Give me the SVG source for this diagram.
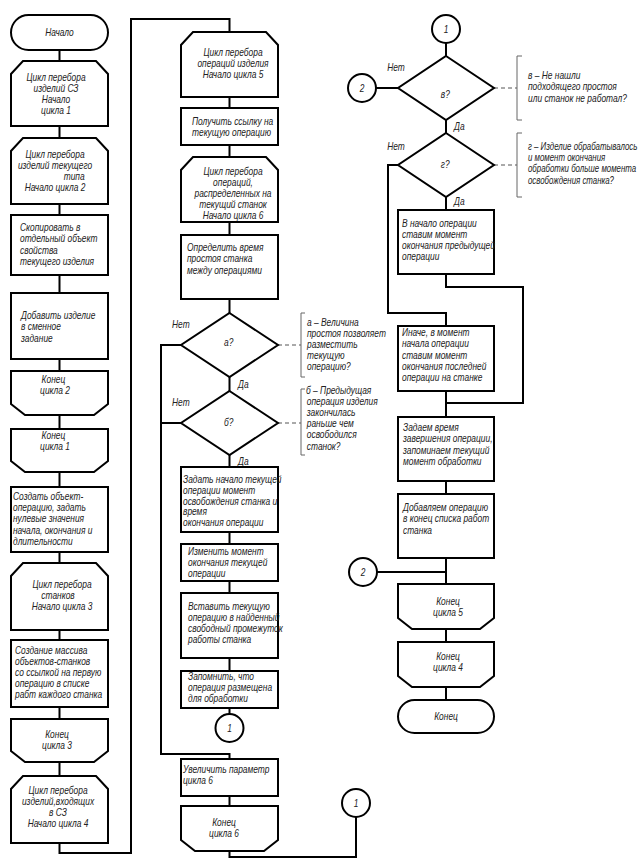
<svg xmlns="http://www.w3.org/2000/svg" width="642" height="861" viewBox="0 0 642 861">
<style>
.s{fill:#fff;stroke:#000;stroke-width:2}
.l{fill:none;stroke:#000;stroke-width:2}
.d{fill:none;stroke:#555;stroke-width:1;stroke-dasharray:4 3}
.b{fill:none;stroke:#666;stroke-width:1}
text{font-family:'Liberation Sans',Arial,sans-serif;font-style:italic;font-size:10.5px;fill:#222}
.c text{text-anchor:middle}
</style>
<rect width="642" height="861" fill="#fff"/>
<g id="connectors">
<path class="l" d="M59.5,50V843M59.5,843V853H131V19H229.5V32"/>
<path class="l" d="M229.5,97V714M182,345H161V754H229.5V759M182,423H161M229.5,796V806M229.5,851V857H356V817"/>
<path class="l" d="M446,43V56M446,120V133M446,197V210M446,274V287H523V403H446M399,165H388V313H446V326M446,391V417M446,481V494M446,558V584M446,629V642M446,687V700M376,88H398M377,572H446"/>
<path class="d" d="M278,345H301M278,423H301M494,88H517M494,165H517"/>
<path class="b" d="M305,313H301V377H305M305,389H301V455H305M522,56H517V120H522M522,133H517V197H522"/>
</g>
<g id="n_start"><rect class="s" x="11" y="15" width="97" height="35" rx="17.5"/><g class="c" transform="translate(59.5 0) scale(0.8 1)"><text x="0" y="36">Начало</text></g></g>
<g id="n_loop1"><path class="s" d="M23,61H96L108,74V126H11V74Z"/><g class="c" transform="translate(56 0) scale(0.8 1)"><text x="0" y="81.5">Цикл перебора</text><text x="0" y="92">изделий СЗ</text><text x="0" y="103">Начало</text><text x="0" y="114">цикла 1</text></g></g>
<g id="n_loop2"><path class="s" d="M23,138H96L108,151V204H11V151Z"/><g class="c" transform="translate(55 0) scale(0.8 1)"><text x="0" y="158.5">Цикл  перебора</text><text x="0" y="169.5">изделий текущего</text><text x="24" y="180.5">типа</text><text x="0" y="191.5">Начало цикла 2</text></g></g>
<g id="n_copy"><rect class="s" x="11" y="215" width="97" height="60"/><g transform="translate(20 0) scale(0.8 1)"><text x="0" y="231.5">Скопировать в</text><text x="0" y="242.5">отдельный объект</text><text x="0" y="254">свойства</text><text x="0" y="265.5">текущего изделия</text></g></g>
<g id="n_add"><rect class="s" x="11" y="293" width="97" height="66"/><g transform="translate(21 0) scale(0.8 1)"><text x="0" y="319.5">Добавить изделие</text><text x="0" y="330.5">в сменное</text><text x="0" y="342.5">задание</text></g></g>
<g id="n_end2"><path class="s" d="M11,371H108V404L94,415H25L11,404Z"/><g class="c" transform="translate(55 0) scale(0.8 1)"><text x="-2" y="383.5">Конец</text><text x="0" y="394.5">цикла 2</text></g></g>
<g id="n_end1"><path class="s" d="M11,429H108V461L94,472H25L11,461Z"/><g class="c" transform="translate(55 0) scale(0.8 1)"><text x="-2" y="439.5">Конец</text><text x="0" y="450.5">цикла 1</text></g></g>
<g id="n_create"><rect class="s" x="11" y="487" width="97" height="65"/><g transform="translate(13 0) scale(0.8 1)"><text x="0" y="500.5">Создать объект-</text><text x="0" y="511.5">операцию, задать</text><text x="0" y="522.5">нулевые значения</text><text x="0" y="534.5">начала, окончания и</text><text x="0" y="545.5">длительности</text></g></g>
<g id="n_loop3"><path class="s" d="M23,563H96L108,576V630H11V576Z"/><g class="c" transform="translate(62 0) scale(0.8 1)"><text x="0" y="588.5">Цикл перебора</text><text x="-5" y="599.5">станков</text><text x="0" y="610.5">Начало цикла 3</text></g></g>
<g id="n_array"><rect class="s" x="11" y="640" width="97" height="67"/><g transform="translate(15 0) scale(0.8 1)"><text x="0" y="654.5">Создание массива</text><text x="0" y="665.5">объектов-станков</text><text x="0" y="676.5">со ссылкой на первую</text><text x="0" y="687.5">операцию в списке</text><text x="0" y="698.5">рабт каждого станка</text></g></g>
<g id="n_end3"><path class="s" d="M11,719H108V751L94,762H25L11,751Z"/><g class="c" transform="translate(57 0) scale(0.8 1)"><text x="0" y="738.5">Конец</text><text x="0" y="749.5">цикла 3</text></g></g>
<g id="n_loop4"><path class="s" d="M23,776H96L108,789V843H11V789Z"/><g class="c" transform="translate(58 0) scale(0.8 1)"><text x="0" y="794.5">Цикл перебора</text><text x="0" y="805.5">изделий,входящих</text><text x="0" y="816.5">в СЗ</text><text x="0" y="827.5">Начало цикла 4</text></g></g>
<g id="n_loop5"><path class="s" d="M193,32H266L278,45V97H181V45Z"/><g class="c" transform="translate(233 0) scale(0.8 1)"><text x="0" y="56.5">Цикл перебора</text><text x="0" y="67.5">операций изделия</text><text x="0" y="78.5">Начало цикла 5</text></g></g>
<g id="n_ref"><rect class="s" x="181" y="108" width="97" height="37"/><g transform="translate(192 0) scale(0.8 1)"><text x="0" y="125.5">Получить ссылку на</text><text x="0" y="136.5">текущую операцию</text></g></g>
<g id="n_loop6"><path class="s" d="M193,157H266L278,170V222H181V170Z"/><g class="c" transform="translate(233 0) scale(0.8 1)"><text x="0" y="175.5">Цикл перебора</text><text x="0" y="186.5">операций,</text><text x="0" y="197.5">распределенных на</text><text x="0" y="208.5">текущий станок</text><text x="0" y="219.5">Начало цикла 6</text></g></g>
<g id="n_idle"><rect class="s" x="181" y="235" width="97" height="64"/><g transform="translate(187 0) scale(0.8 1)"><text x="0" y="251.5">Определить время</text><text x="0" y="262.5">простоя станка</text><text x="0" y="274.5">между операциями</text></g></g>
<g id="n_a"><path class="s" d="M229.5,313L278,345L229.5,377L181,345Z"/><g transform="translate(0 0) scale(0.8 1)"><text x="280" y="346">а?</text><text x="215" y="328">Нет</text><text x="297.5" y="388">Да</text></g></g>
<g id="n_a_note"><g transform="translate(307 0) scale(0.8 1)"><text x="0" y="326.5">а – Величина</text><text x="0" y="337.5">простоя позволяет</text><text x="0" y="348.5">разместить</text><text x="0" y="359.5">текущую</text><text x="0" y="370.5">операцию?</text></g></g>
<g id="n_b"><path class="s" d="M229.5,391L278,423L229.5,455L181,423Z"/><g transform="translate(0 0) scale(0.8 1)"><text x="280" y="426">б?</text><text x="215" y="406">Нет</text><text x="297.5" y="465">Да</text></g></g>
<g id="n_b_note"><g transform="translate(306 0) scale(0.8 1)"><text x="0" y="394.5">б – Предыдущая</text><text x="1" y="405.5">операция изделия</text><text x="1" y="416.5">закончилась</text><text x="1" y="427.5">раньше чем</text><text x="1" y="438.5">освободился</text><text x="1" y="450.5">станок?</text></g></g>
<g id="n_set"><rect class="s" x="181" y="467" width="97" height="65"/><g transform="translate(183 0) scale(0.8 1)"><text x="0" y="483.5">Задать начало текущей</text><text x="0" y="494">операции момент</text><text x="0" y="505">освобождения станка и</text><text x="0" y="515.5">время</text><text x="0" y="526.5">окончания операции</text></g></g>
<g id="n_change"><rect class="s" x="181" y="544" width="97" height="37"/><g transform="translate(188 0) scale(0.8 1)"><text x="0" y="555.5">Изменить момент</text><text x="0" y="566.5">окончания текущей</text><text x="0" y="577.5">операции</text></g></g>
<g id="n_insert"><rect class="s" x="181" y="593" width="97" height="65"/><g transform="translate(188 0) scale(0.8 1)"><text x="0" y="610.5">Вставить текущую</text><text x="0" y="621">операцию в найденный</text><text x="0" y="632">свободный промежуток</text><text x="0" y="643">работы станка</text></g></g>
<g id="n_remember"><rect class="s" x="181" y="671" width="97" height="37"/><g transform="translate(188 0) scale(0.8 1)"><text x="0" y="680.5">Запомнить, что</text><text x="0" y="691.5">операция размещена</text><text x="0" y="702.5">для обработки</text></g></g>
<g id="n_c1a"><circle class="s" cx="229.5" cy="728" r="14"/><g class="c" transform="translate(229.5 0) scale(0.8 1)"><text x="0" y="732">1</text></g></g>
<g id="n_inc"><rect class="s" x="181" y="759" width="97" height="37"/><g transform="translate(183 0) scale(0.8 1)"><text x="0" y="773.5">Увеличить параметр</text><text x="0" y="784.5">цикла 6</text></g></g>
<g id="n_end6"><path class="s" d="M181,806H278V840L264,851H195L181,840Z"/><g class="c" transform="translate(224 0) scale(0.8 1)"><text x="0" y="826.5">Конец</text><text x="0" y="837.5">цикла 6</text></g></g>
<g id="n_c1b"><circle class="s" cx="356" cy="803" r="14"/><g class="c" transform="translate(356 0) scale(0.8 1)"><text x="0" y="807">1</text></g></g>
<g id="n_c1c"><circle class="s" cx="446" cy="29" r="14"/><g class="c" transform="translate(446 0) scale(0.8 1)"><text x="0" y="33">1</text></g></g>
<g id="n_v"><path class="s" d="M446,56L494,88L446,120L398,88Z"/><g transform="translate(0 0) scale(0.8 1)"><text x="551" y="98">в?</text><text x="484" y="71">Нет</text><text x="567.5" y="130">Да</text></g></g>
<g id="n_c2a"><circle class="s" cx="362" cy="88" r="14"/><g class="c" transform="translate(362 0) scale(0.8 1)"><text x="0" y="92">2</text></g></g>
<g id="n_v_note"><g transform="translate(528 0) scale(0.8 1)"><text x="0" y="79.5">в – Не нашли</text><text x="0" y="90.5">подходящего простоя</text><text x="0" y="102.5">или станок не работал?</text></g></g>
<g id="n_g"><path class="s" d="M446,133L494,165L446,197L398,165Z"/><g transform="translate(0 0) scale(0.8 1)"><text x="551" y="168">г?</text><text x="484" y="150">Нет</text><text x="567.5" y="205">Да</text></g></g>
<g id="n_g_note"><g transform="translate(528 0) scale(0.75 1)"><text x="0" y="150">г – Изделие обрабатывалось</text><text x="0" y="161">и момент окончания</text><text x="0" y="172.5">обработки больше момента</text><text x="0" y="184">освобождения станка?</text></g></g>
<g id="n_begin"><rect class="s" x="398" y="210" width="96" height="64"/><g transform="translate(402 0) scale(0.8 1)"><text x="0" y="227.5">В начало операции</text><text x="0" y="238.5">ставим момент</text><text x="0" y="249.5">окончания предыдущей</text><text x="0" y="260.5">операции</text></g></g>
<g id="n_else"><rect class="s" x="398" y="326" width="96" height="65"/><g transform="translate(402 0) scale(0.8 1)"><text x="0" y="336.5">Иначе, в момент</text><text x="0" y="347.5">начала операции</text><text x="0" y="359.5">ставим момент</text><text x="0" y="370.5">окончания последней</text><text x="0" y="381.5">операции на станке</text></g></g>
<g id="n_time"><rect class="s" x="398" y="417" width="96" height="64"/><g transform="translate(403 0) scale(0.8 1)"><text x="0" y="431.5">Задаем время</text><text x="0" y="442.5">завершения операции,</text><text x="0" y="454.5">запоминаем текущий</text><text x="0" y="465.5">момент обработки</text></g></g>
<g id="n_addop"><rect class="s" x="398" y="494" width="96" height="64"/><g transform="translate(403 0) scale(0.8 1)"><text x="0" y="511.5">Добавляем операцию</text><text x="0" y="522.5">в конец списка работ</text><text x="0" y="534.5">станка</text></g></g>
<g id="n_c2b"><circle class="s" cx="363" cy="572" r="14"/><g class="c" transform="translate(363 0) scale(0.8 1)"><text x="0" y="576">2</text></g></g>
<g id="n_end5"><path class="s" d="M398,584H494V618L480,629H412L398,618Z"/><g class="c" transform="translate(448 0) scale(0.8 1)"><text x="0" y="605.5">Конец</text><text x="0" y="616.5">цикла 5</text></g></g>
<g id="n_end4"><path class="s" d="M398,642H494V676L480,687H412L398,676Z"/><g class="c" transform="translate(448 0) scale(0.8 1)"><text x="0" y="660.5">Конец</text><text x="0" y="671.5">цикла 4</text></g></g>
<g id="n_end"><rect class="s" x="398" y="700" width="96" height="33" rx="16.5"/><g class="c" transform="translate(446 0) scale(0.8 1)"><text x="0" y="720">Конец</text></g></g>
</svg>
